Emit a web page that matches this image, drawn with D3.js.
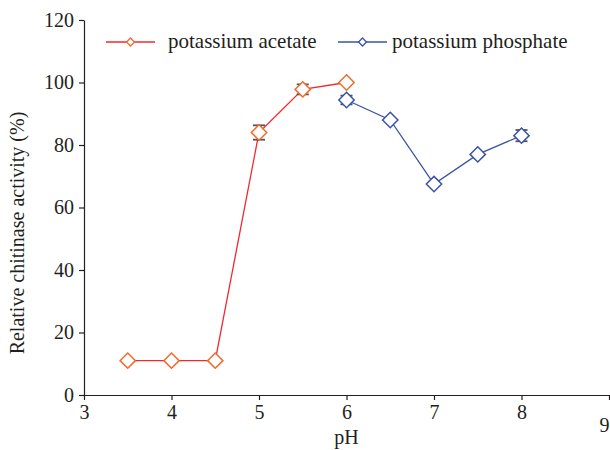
<!DOCTYPE html>
<html lang="en">
<head>
<meta charset="utf-8">
<title>chitinase pH</title>
<script src="https://d3js.org/d3.v7.min.js"></script>
<style>
  body { margin: 0; background: #fff; }
  svg text { font-family: "Liberation Serif", "Times New Roman", serif; fill: #231f20; }
  .axis path, .axis line { stroke: #231f20; stroke-width: 1.2px; }
</style>
</head>
<body>
<script>
// data
var acetatePH = [3.5, 4, 4.5, 5, 5.5, 6];
var acetateVal = [11, 11, 11, 84, 97.8, 100];
var acetateErr = [0, 0, 0, 2.3, 1.6, 0];
var phosphatePH = [6, 6.5, 7, 7.5, 8];
var phosphateVal = [94.4, 88, 67.5, 77, 83];
var phosphateErr = [1.4, 0, 0.5, 0, 1.8];
var xTicks = [3, 4, 5, 6, 7, 8, 9];
var yTicks = [0, 20, 40, 60, 80, 100, 120];
var seriesNames = ["potassium acetate", "potassium phosphate"];

var w = 610, h = 450;
var margin = {top: 20, right: 1, bottom: 55, left: 84};
var fs = "20px";

var svg = d3.select("body").append("svg")
  .attr("width", w).attr("height", h);

var xScale = d3.scaleLinear().domain([3, 9]).range([margin.left, w - margin.right]);
var yScale = d3.scaleLinear().domain([0, 120]).range([h - margin.bottom, margin.top]);

var xAxis = d3.axisBottom(xScale).tickValues(xTicks).tickFormat(d3.format("d"))
  .tickSize(5).tickSizeOuter(0).tickPadding(5);
svg.append("g").attr("class", "axis x")
  .attr("transform", `translate(0, ${yScale(0)})`)
  .call(xAxis)
  .selectAll("text").attr("font-size", fs);

var yAxis = d3.axisLeft(yScale).tickValues(yTicks).tickSize(5).tickSizeOuter(0).tickPadding(5);
svg.append("g").attr("class", "axis y")
  .attr("transform", `translate(${margin.left}, 0)`)
  .call(yAxis)
  .selectAll("text").attr("font-size", fs);

// last x tick label sits lower and hugs the right edge, like the reference
svg.selectAll(".axis.x text").filter(d => d === 9)
  .attr("dy", "1.35em").attr("text-anchor", "end").attr("x", 0);

svg.append("text")
  .attr("x", xScale(6)).attr("y", 444)
  .attr("text-anchor", "middle").attr("font-size", fs).text("pH");

svg.append("text")
  .attr("transform", `translate(24, 233) rotate(-90)`)
  .attr("text-anchor", "middle").attr("font-size", fs)
  .text("Relative chitinase activity (%)");

var acetate = acetatePH.map((p, i) => ({x: p, y: acetateVal[i], e: acetateErr[i]}));
var phosphate = phosphatePH.map((p, i) => ({x: p, y: phosphateVal[i], e: phosphateErr[i]}));

var lineGen = d3.line().x(d => xScale(d.x)).y(d => yScale(d.y));
var diamond = d3.symbol().type(d3.symbolDiamond2).size(150);

function drawSeries(data, lineColor, markColor) {
  svg.append("path").datum(data)
    .attr("fill", "none").attr("stroke", lineColor).attr("stroke-width", 1.3)
    .attr("d", lineGen);

  var eb = svg.append("g").attr("stroke", "#555").attr("stroke-width", 1.8);
  data.filter(d => d.e > 0).forEach(function(d) {
    var cx = xScale(d.x);
    eb.append("line").attr("x1", cx).attr("x2", cx)
      .attr("y1", yScale(d.y - d.e)).attr("y2", yScale(d.y + d.e)).attr("stroke-width", 1);
    [d.y - d.e, d.y + d.e].forEach(function(v) {
      eb.append("line").attr("x1", cx - 6).attr("x2", cx + 6)
        .attr("y1", yScale(v)).attr("y2", yScale(v));
    });
  });

  svg.append("g").selectAll("path").data(data).join("path")
    .attr("transform", d => `translate(${xScale(d.x)}, ${yScale(d.y)})`)
    .attr("d", diamond)
    .attr("fill", "#fff").attr("stroke", markColor).attr("stroke-width", 1.5);
}

drawSeries(acetate, "#ee2a2f", "#f26a2c");
drawSeries(phosphate, "#3a54a4", "#3a54a4");

// legend
var legend = [
  {name: seriesNames[0], line: "#ee2a2f", mark: "#f26a2c", x: 106, tx: 62},
  {name: seriesNames[1], line: "#3a54a4", mark: "#3a54a4", x: 338, tx: 54}
];
var small = d3.symbol().type(d3.symbolDiamond2).size(40);
legend.forEach(function(l) {
  var g = svg.append("g").attr("transform", `translate(${l.x}, 42)`);
  g.append("line").attr("x1", 0).attr("x2", 49).attr("stroke", l.line).attr("stroke-width", 1.3);
  g.append("path").attr("d", small).attr("transform", "translate(24.5, 0)")
    .attr("fill", "#fff").attr("stroke", l.mark).attr("stroke-width", 1.3);
  g.append("text").attr("x", l.tx).attr("y", 6)
    .attr("font-size", "21px").text(l.name);
});
</script>
</body>
</html>
